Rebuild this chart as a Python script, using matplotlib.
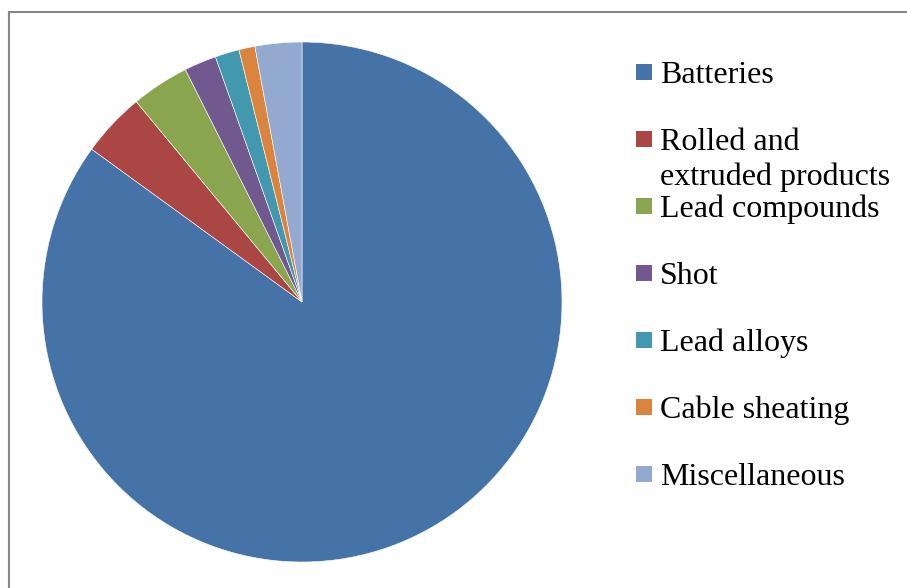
"""Lead end-use pie chart with a right-hand legend, Excel 2007 look."""
import matplotlib

matplotlib.use("Agg")
import matplotlib.pyplot as plt
from matplotlib.patches import Rectangle

# data (shares in %)
categories = [
    "Batteries",
    "Rolled and\nextruded products",
    "Lead compounds",
    "Shot",
    "Lead alloys",
    "Cable sheating",
    "Miscellaneous",
]
shares = [85.0, 4.0, 3.6, 2.0, 1.5, 1.0, 2.9]
colors = ["#4572A7", "#AA4643", "#89A54E", "#71588F", "#4198AF", "#DB843D", "#93A9CF"]

W, H = 907, 588
plt.rcParams["font.family"] = ["Liberation Serif", "DejaVu Serif"]

fig = plt.figure(figsize=(W / 100, H / 100), dpi=100)

# pie: centre (302, 302) px, radius 260 px
cx, cy, r = 302, 302, 260
ax = fig.add_axes([(cx - r) / W, (H - cy - r) / H, 2 * r / W, 2 * r / H])
ax.pie(
    shares,
    colors=colors,
    startangle=90,
    counterclock=False,
    radius=1.0,
    wedgeprops={"edgecolor": "white", "linewidth": 0.4},
)
ax.set_xlim(-1, 1)
ax.set_ylim(-1, 1)
ax.set_aspect("equal")
ax.axis("off")

# manual legend: evenly spaced entries, marker on first line of label
sq = 15.5
x_mark, x_text = 636, 660
y0, step, line_h = 72, 67, 35
for i, (lab, col) in enumerate(zip(categories, colors)):
    yc = y0 + i * step
    fig.patches.append(
        Rectangle(
            (x_mark / W, (H - yc - sq / 2) / H),
            sq / W,
            sq / H,
            transform=fig.transFigure,
            facecolor=col,
            edgecolor="none",
        )
    )
    # one text per line so the first baseline lines up with the marker
    for j, line in enumerate(lab.split("\n")):
        baseline = yc + 11 + j * line_h
        fig.text(
            x_text / W,
            (H - baseline) / H,
            line,
            fontsize=23,
            ha="left",
            va="baseline",
            color="black",
        )

# chart-area border (only top and left edges fall inside the image)
fig.patches.append(
    Rectangle(
        (8.5 / W, -0.1),
        1.2,
        (H - 12.5) / H + 0.1,
        transform=fig.transFigure,
        fill=False,
        edgecolor="#878787",
        linewidth=1.5,
    )
)

fig.savefig("out.png", dpi=100)
